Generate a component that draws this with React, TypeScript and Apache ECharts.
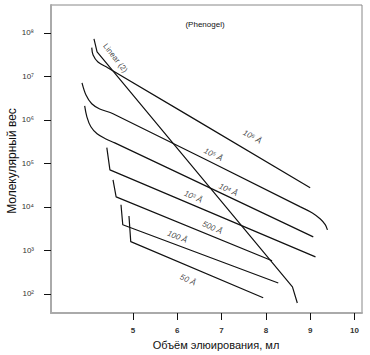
import React, { useEffect, useRef } from "react";
import * as echarts from "echarts";

// Axis ticks
const xTicks = [5, 6, 7, 8, 9, 10];
const yTicks = [2, 3, 4, 5, 6, 7, 8]; // log10 of molecular weight

// Calibration curves: elution volume (mL) and log10(MW)
const c1e6Vol = [4.07, 4.1, 4.21, 4.43, 9.0];
const c1e6Log = [7.66, 7.49, 7.33, 7.2, 4.44];

const c1e5Vol = [3.85, 3.94, 4.07, 4.25, 4.55, 8.78, 9.05, 9.23, 9.34, 9.39];
const c1e5Log = [6.85, 6.57, 6.37, 6.25, 6.14, 4.0, 3.86, 3.72, 3.59, 3.47];

const c1e4Vol = [3.91, 3.96, 4.05, 4.19, 4.39, 4.59, 9.07];
const c1e4Log = [6.32, 6.07, 5.84, 5.68, 5.56, 5.47, 3.31];

const c1e3Vol = [4.41, 4.48, 9.12];
const c1e3Log = [5.36, 4.85, 2.85];

const c500Vol = [4.55, 4.62, 8.14];
const c500Log = [4.62, 4.23, 2.76];

const c100Vol = [4.73, 4.77, 8.28];
const c100Log = [4.05, 3.59, 2.25];

const c50Vol = [4.91, 4.95, 7.94];
const c50Log = [3.79, 3.2, 1.91];

const linearVol = [4.12, 4.19, 8.6, 8.71];
const linearLog = [7.86, 7.56, 2.16, 1.79];

// Curve labels (position in data coords, rotation in degrees)
const labelTexts = ["10⁶ Å", "10⁵ Å", "10⁴ Å", "10³ Å", "500 Å", "100 Å", "50 Å", "Linear (2)"];
const labelVol = [7.69, 6.81, 7.15, 6.36, 6.79, 6.0, 6.24, 4.6];
const labelLog = [5.61, 5.2, 4.39, 4.23, 3.52, 3.31, 2.32, 7.42];
const labelRot = [-29, -26, -25, -24, -24, -22, -24, -52];

const yTitle = "Молекулярный вес";
const xTitle = "Объём элюирования, мл";

const sup: Record<string, string> = {
  "0": "⁰", "1": "¹", "2": "²", "3": "³", "4": "⁴",
  "5": "⁵", "6": "⁶", "7": "⁷", "8": "⁸", "9": "⁹",
};

const zip = (a: number[], b: number[]) => a.map((v, i) => [v, b[i]]);

export default function App() {
  const ref = useRef<HTMLDivElement>(null);

  useEffect(() => {
    document.body.style.margin = "0";
    if (!ref.current) return;
    const chart = echarts.init(ref.current, null, { renderer: "svg" });

    const curves = [
      { name: "10^6 Å", d: zip(c1e6Vol, c1e6Log), smooth: 0.35 },
      { name: "10^5 Å", d: zip(c1e5Vol, c1e5Log), smooth: 0.35 },
      { name: "10^4 Å", d: zip(c1e4Vol, c1e4Log), smooth: 0.35 },
      { name: "10^3 Å", d: zip(c1e3Vol, c1e3Log), smooth: false },
      { name: "500 Å", d: zip(c500Vol, c500Log), smooth: false },
      { name: "100 Å", d: zip(c100Vol, c100Log), smooth: false },
      { name: "50 Å", d: zip(c50Vol, c50Log), smooth: false },
      { name: "Linear (2)", d: zip(linearVol, linearLog), smooth: false },
    ];

    const lineSeries = curves.map((c) => ({
      type: "line",
      name: c.name,
      data: c.d,
      smooth: c.smooth,
      showSymbol: false,
      symbol: "none",
      lineStyle: { color: "#111", width: 1.2 },
      silent: true,
    }));

    const labelSeries = labelTexts.map((t, i) => ({
      type: "scatter",
      name: "label-" + i,
      data: [[labelVol[i], labelLog[i]]],
      symbol: "circle",
      symbolSize: 1,
      itemStyle: { color: "rgba(0,0,0,0)" },
      silent: true,
      label: {
        show: true,
        position: "inside",
        formatter: t,
        rotate: labelRot[i],
        fontSize: 8,
        fontStyle: i < 7 ? "italic" : "normal",
        fontFamily: "Liberation Sans, Arial, sans-serif",
        color: "#111",
        textBorderWidth: 0,
        textBorderColor: "transparent",
      },
    }));

    chart.setOption({
      animation: false,
      backgroundColor: "#fff",
      grid: {
        left: 51,
        right: 8,
        top: 5,
        bottom: 42,
        show: true,
        borderColor: "#888",
        borderWidth: 1,
        containLabel: false,
        outerBoundsMode: "none",
      },
      graphic: [
        {
          type: "text",
          x: 205,
          y: 24,
          style: {
            text: "(Phenogel)",
            fontSize: 8,
            fontFamily: "Liberation Sans, Arial, sans-serif",
            fill: "#111",
            textAlign: "center",
            textVerticalAlign: "middle",
          },
        },
        {
          type: "text",
          x: 12,
          y: 161,
          rotation: Math.PI / 2,
          style: {
            text: yTitle,
            fontSize: 12,
            fontFamily: "Liberation Sans, Arial, sans-serif",
            fill: "#111",
            textAlign: "center",
            textVerticalAlign: "middle",
          },
        },
        {
          type: "text",
          x: 216,
          y: 345,
          style: {
            text: xTitle,
            fontSize: 11,
            fontFamily: "Liberation Sans, Arial, sans-serif",
            fill: "#111",
            textAlign: "center",
            textVerticalAlign: "middle",
          },
        },
      ],
      xAxis: {
        type: "value",
        min: 3.15,
        max: 10.17,
        splitLine: { show: false },
        axisLine: { show: true, lineStyle: { color: "#aaa", width: 2 } },
        axisTick: {
          show: true,
          customValues: xTicks,
          length: 7,
          inside: false,
          lineStyle: { color: "#111", width: 1 },
        },
        axisLabel: {
          customValues: xTicks,
          margin: 13,
          fontSize: 8,
          fontWeight: "bold",
          fontFamily: "Liberation Sans, Arial, sans-serif",
          color: "#333",
        },
      },
      yAxis: {
        type: "value",
        min: 1.56,
        max: 8.64,
        splitLine: { show: false },
        axisLine: { show: true, lineStyle: { color: "#aaa", width: 2 } },
        axisTick: {
          show: true,
          customValues: yTicks,
          length: 7,
          inside: false,
          lineStyle: { color: "#111", width: 1 },
        },
        axisLabel: {
          customValues: yTicks,
          margin: 17,
          fontSize: 8,
          fontFamily: "Liberation Sans, Arial, sans-serif",
          color: "#333",
          formatter: (v: number) =>
            "10" + String(Math.round(v)).split("").map((ch) => sup[ch]).join(""),
        },
      },
      series: [...lineSeries, ...labelSeries],
    });

    return () => chart.dispose();
  }, []);

  return <div ref={ref} style={{ width: 370, height: 355 }} />;
}
